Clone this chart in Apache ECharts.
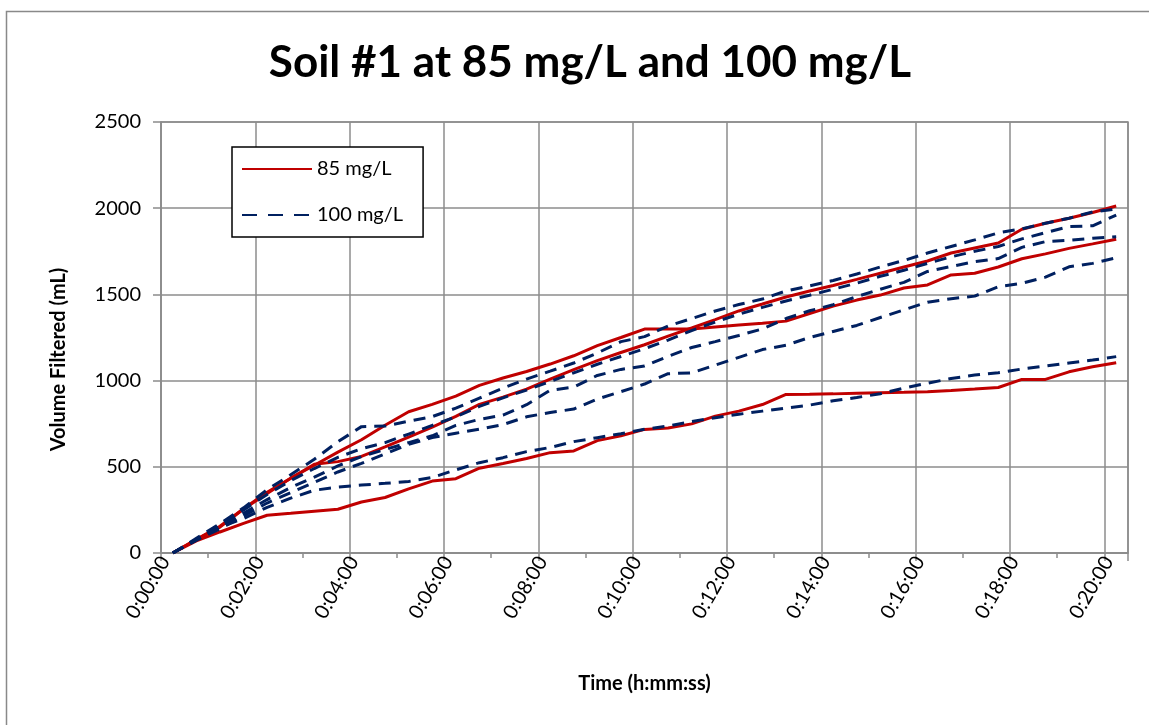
<!DOCTYPE html>
<html>
<head>
<meta charset="utf-8">
<title>Soil #1 at 85 mg/L and 100 mg/L</title>
<script src="https://cdn.jsdelivr.net/npm/echarts/dist/echarts.min.js"></script>
<style>
  html, body { margin: 0; padding: 0; background: #fff; }
  #chart { width: 1149px; height: 725px; }
</style>
</head>
<body>
<div id="chart"></div>
<script>
// sample times (h:mm:ss), one reading every 30 s
const times = ['0:00:15', '0:00:45', '0:01:15', '0:01:45', '0:02:15', '0:02:45', '0:03:15', '0:03:45',
  '0:04:15', '0:04:45', '0:05:15', '0:05:45', '0:06:15', '0:06:45', '0:07:15', '0:07:45',
  '0:08:15', '0:08:45', '0:09:15', '0:09:45', '0:10:15', '0:10:45', '0:11:15', '0:11:45',
  '0:12:15', '0:12:45', '0:13:15', '0:13:45', '0:14:15', '0:14:45', '0:15:15', '0:15:45',
  '0:16:15', '0:16:45', '0:17:15', '0:17:45', '0:18:15', '0:18:45', '0:19:15', '0:19:45', '0:20:15']

const tickLabels = ['0:00:00', '0:02:00', '0:04:00', '0:06:00', '0:08:00', '0:10:00',
  '0:12:00', '0:14:00', '0:16:00', '0:18:00', '0:20:00']

// 85 mg/L runs (mL filtered)
const run85a = [0, 80, 155, 257, 352, 434, 509, 585, 657, 741, 819, 862, 910, 972, 1015, 1053, 1096, 1144, 1203, 1250,
  1299, 1299, 1299, 1311, 1322, 1332, 1345, 1389, 1432, 1467, 1496, 1537, 1555, 1613, 1623, 1659, 1707, 1735, 1767, 1793, 1820]
const run85b = [0, 78, 150, 255, 345, 434, 515, 530, 560, 615, 672, 730, 792, 862, 904, 951, 1008, 1064, 1116, 1163,
  1208, 1258, 1305, 1354, 1404, 1444, 1485, 1520, 1552, 1587, 1623, 1659, 1694, 1740, 1769, 1798, 1878, 1913, 1942, 1975, 2013]
const run85c = [0, 70, 122, 172, 219, 230, 242, 254, 296, 322, 372, 417, 431, 492, 519, 548, 582, 592, 652, 680,
  717, 725, 749, 794, 823, 861, 920, 921, 923, 926, 929, 932, 936, 943, 951, 960, 1007, 1007, 1051, 1080, 1103]

// 100 mg/L runs (mL filtered)
const run100a = [0, 85, 170, 262, 367, 454, 544, 645, 733, 736, 765, 791, 840, 898, 956, 1009, 1055, 1102, 1160, 1226,
  1255, 1317, 1360, 1404, 1441, 1473, 1520, 1549, 1581, 1618, 1659, 1697, 1740, 1778, 1816, 1857, 1880, 1913, 1942, 1978, 1995]
const run100b = [0, 80, 160, 250, 340, 420, 490, 555, 605, 640, 690, 740, 790, 850, 900, 945, 995, 1045, 1095, 1140,
  1185, 1235, 1290, 1340, 1385, 1425, 1462, 1495, 1530, 1565, 1605, 1640, 1680, 1718, 1750, 1778, 1822, 1858, 1893, 1898, 1960]
const run100c = [0, 78, 150, 230, 310, 380, 440, 505, 560, 600, 640, 680, 740, 775, 800, 860, 944, 962, 1030, 1065,
  1085, 1140, 1192, 1226, 1262, 1300, 1360, 1405, 1440, 1487, 1530, 1570, 1633, 1662, 1690, 1708, 1773, 1806, 1814, 1826, 1835]
const run100d = [0, 75, 150, 200, 265, 318, 364, 382, 394, 404, 415, 438, 482, 524, 553, 588, 612, 646, 669, 692,
  718, 736, 762, 785, 805, 823, 841, 858, 883, 902, 924, 956, 985, 1012, 1032, 1046, 1067, 1084, 1102, 1119, 1139]
const run100e = [0, 75, 140, 215, 290, 350, 410, 470, 520, 575, 630, 670, 695, 718, 745, 790, 815, 835, 893, 936,
  980, 1040, 1045, 1090, 1135, 1180, 1205, 1250, 1285, 1320, 1366, 1410, 1455, 1475, 1490, 1545, 1565, 1600, 1660, 1680, 1712]

const red = '#c00000'
const navy = '#002060'
const gridGray = '#8c8c8c'
const font = 'Lato, "Open Sans", sans-serif'

function toSeconds(t) {
  const p = t.split(':').map(Number)
  return p[0] * 3600 + p[1] * 60 + p[2]
}

function pairs(values) {
  return values.map((v, i) => [toSeconds(times[i]), v])
}

function makeSeries(name, values, dashed) {
  return {
    name: name,
    type: 'line',
    symbol: 'none',
    data: pairs(values),
    lineStyle: {
      color: dashed ? navy : red,
      width: 3,
      type: dashed ? [12, 8] : 'solid',
    },
    itemStyle: { color: dashed ? navy : red },
    emphasis: { disabled: true },
  }
}

const chart = echarts.init(document.getElementById('chart'))
const option = {
  animation: false,
  backgroundColor: '#fff',
  title: {
    text: 'Soil #1 at 85 mg/L and 100 mg/L',
    left: 585,
    top: 36,
    textAlign: 'center',
    textStyle: {
      fontFamily: font,
      fontWeight: 'bold',
      fontSize: 44,
      color: '#000',
    },
  },
  graphic: [{
    type: 'rect',
    left: 4,
    top: 9,
    silent: true,
    z: -10,
    shape: { width: 1200, height: 800 },
    style: { fill: 'none', stroke: '#898989', lineWidth: 1.5 },
  }],
  legend: {
    orient: 'vertical',
    left: 232,
    top: 147,
    padding: [12, 20, 12, 9],
    itemWidth: 70,
    itemHeight: 20,
    itemGap: 26,
    backgroundColor: '#fff',
    borderColor: '#000',
    borderWidth: 1.5,
    borderRadius: 0,
    itemStyle: { opacity: 0 },
    textStyle: { fontFamily: font, fontSize: 20, color: '#000' },
    data: [
      { name: '85 mg/L' },
      { name: '100 mg/L', lineStyle: { type: [15, 11] } },
    ],
  },
  grid: {
    left: 161,
    top: 122,
    right: 21,
    bottom: 172,
    show: true,
    borderColor: gridGray,
    borderWidth: 1.5,
    outerBoundsMode: 'none',
  },
  xAxis: {
    type: 'value',
    min: 0,
    max: 1230,
    interval: 120,
    name: 'Time (h:mm:ss)',
    nameLocation: 'middle',
    nameGap: 121,
    nameTextStyle: { fontFamily: font, fontWeight: 'bold', fontSize: 20, color: '#000' },
    axisLine: { lineStyle: { color: gridGray, width: 1.5 } },
    axisTick: { show: true, length: 8, lineStyle: { color: gridGray, width: 1.5 } },
    minorTick: { show: true, splitNumber: 2, length: 5, lineStyle: { color: gridGray, width: 1.5 } },
    splitLine: { show: true, lineStyle: { color: gridGray, width: 1.5 } },
    axisLabel: {
      rotate: 60,
      margin: 12,
      fontFamily: font,
      fontSize: 20,
      color: '#000',
      padding: [24, -8, 0, 0],
      showMaxLabel: false,
      formatter: function (v) {
        if (v % 120 !== 0) return ''
        return tickLabels[v / 120]
      },
    },
  },
  yAxis: {
    type: 'value',
    min: 0,
    max: 2500,
    interval: 500,
    name: 'Volume Filtered (mL)',
    nameLocation: 'middle',
    nameGap: 92,
    nameTextStyle: { fontFamily: font, fontWeight: 'bold', fontSize: 20, color: '#000', padding: [0, 44, 0, 0] },
    axisLine: { show: true, lineStyle: { color: gridGray, width: 1.5 } },
    axisTick: { show: true, length: 8, lineStyle: { color: gridGray, width: 1.5 } },
    splitLine: { show: true, lineStyle: { color: gridGray, width: 1.5 } },
    axisLabel: {
      margin: 20,
      fontFamily: font,
      fontSize: 20,
      color: '#000',
      formatter: function (v) {
        return String(v)
      },
    },
  },
  series: [
    makeSeries('85 mg/L', run85a, false),
    makeSeries('85 mg/L', run85b, false),
    makeSeries('85 mg/L', run85c, false),
    makeSeries('100 mg/L', run100a, true),
    makeSeries('100 mg/L', run100b, true),
    makeSeries('100 mg/L', run100c, true),
    makeSeries('100 mg/L', run100d, true),
    makeSeries('100 mg/L', run100e, true),
  ],
}
chart.setOption(option)
</script>
</body>
</html>
